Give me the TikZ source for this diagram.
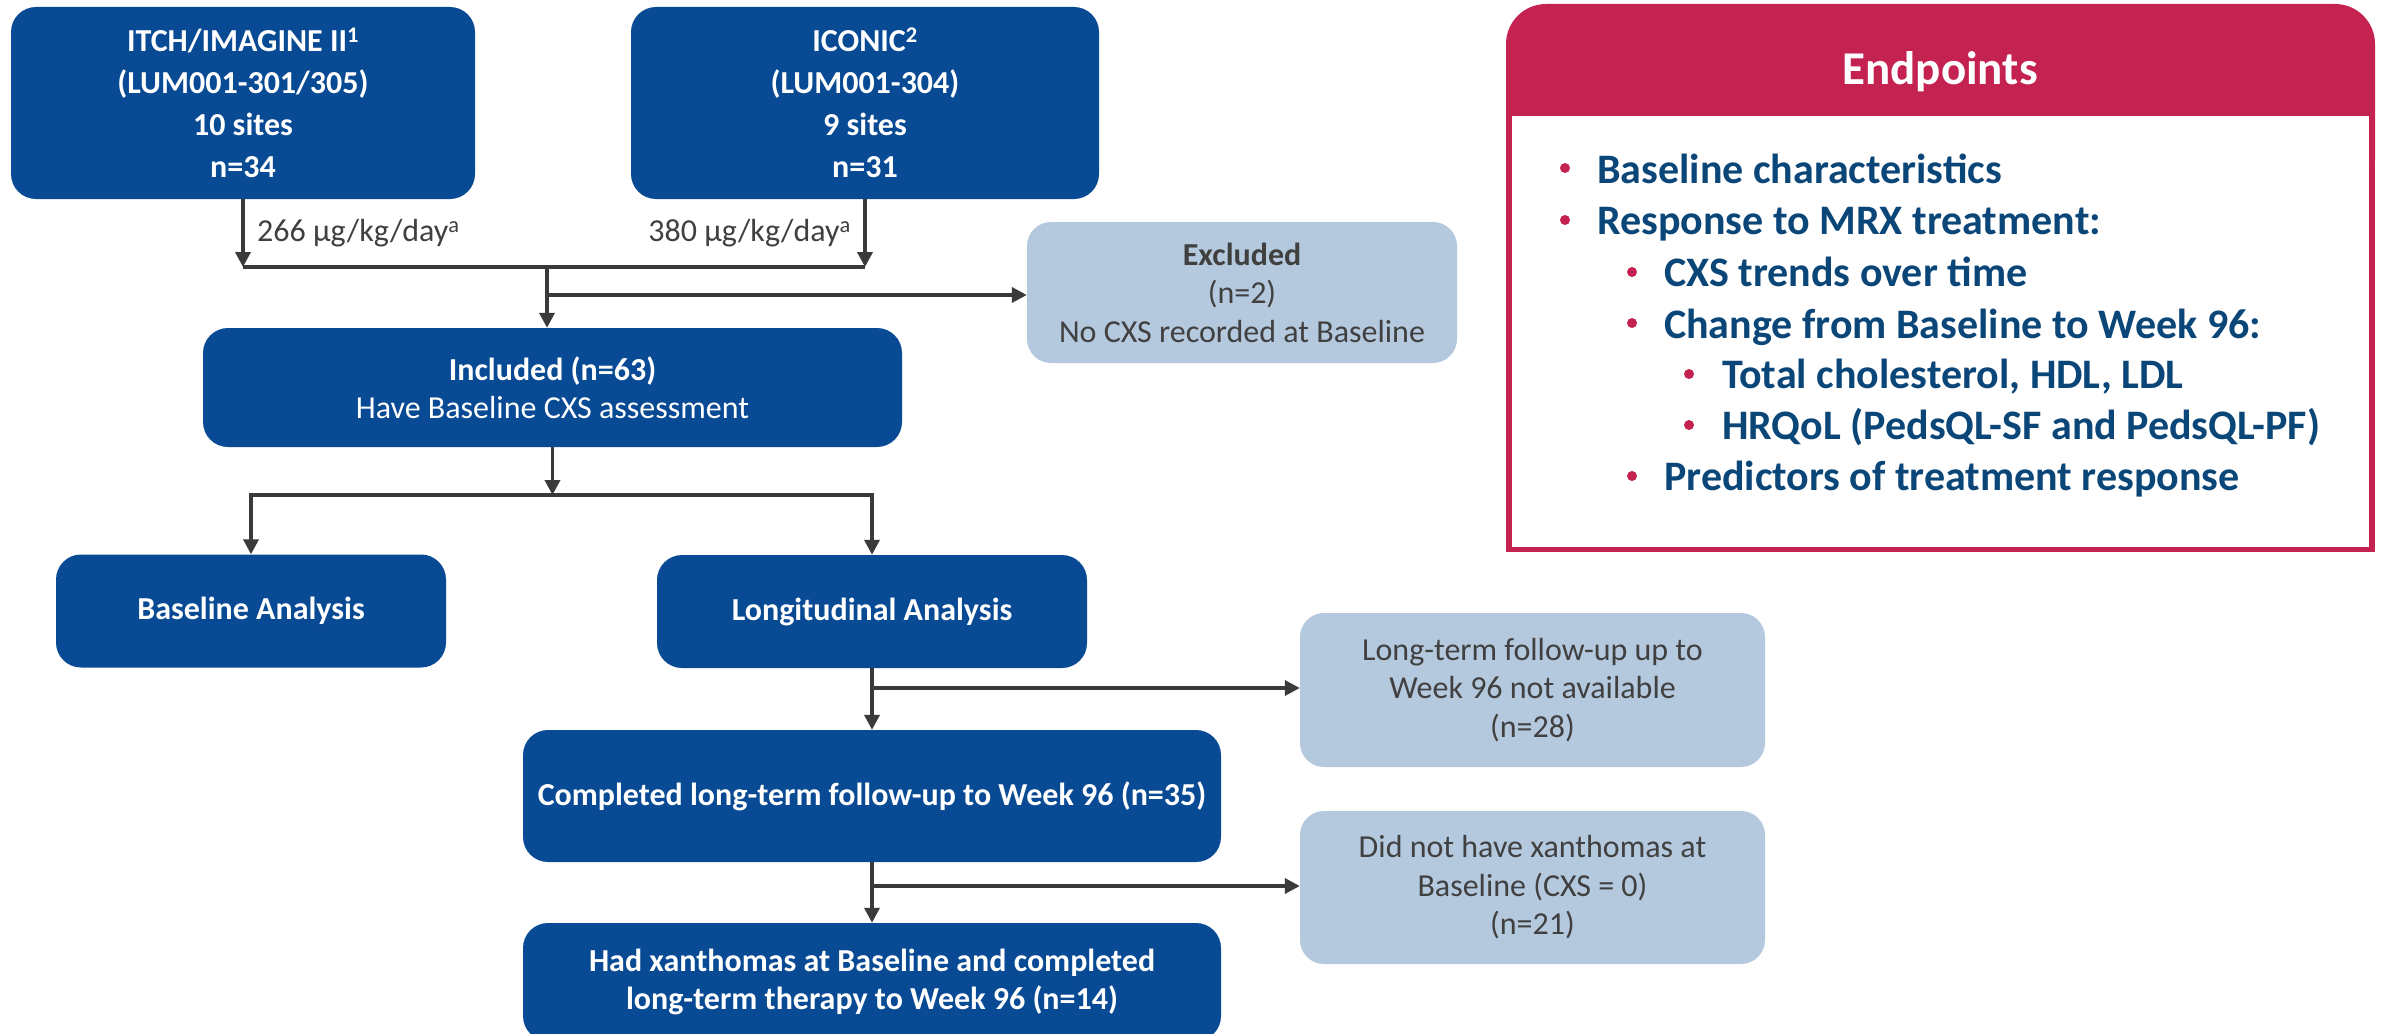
\documentclass[tikz,border=0pt]{standalone}
\usepackage{fontspec}
\setmainfont{Carlito}
\usetikzlibrary{arrows.meta}
\definecolor{mainblue}{HTML}{084A94}
\definecolor{lightblue}{HTML}{B4C8DE}
\definecolor{crim}{HTML}{C42250}
\definecolor{textblue}{HTML}{0B4679}
\definecolor{gtext}{HTML}{404040}
\definecolor{conn}{HTML}{3A3A3A}
\begin{document}
\begin{tikzpicture}[x=1pt,y=-1pt,
  bluebox/.style={fill=mainblue, rounded corners=25pt, text=white, align=center, inner sep=0pt, font=\fontsize{32}{38.5}\selectfont\bfseries},
  greybox/.style={fill=lightblue, rounded corners=24pt, text=gtext, align=center, inner sep=0pt, font=\fontsize{32}{38.5}\selectfont},
  lbl/.style={text=gtext, inner sep=0pt, font=\fontsize{32}{38.5}\selectfont},
  conline/.style={draw=conn, line width=3.5pt},
  arr/.style={conline, -{Triangle[length=15pt,width=15pt]}},
  ept/.style={text=textblue, inner sep=0pt, anchor=base west, font=\fontsize{42}{50}\selectfont\bfseries},
  bul/.style={fill=crim}
]
\useasboundingbox (0,0) rectangle (2384,1033);
\fill[white] (0,0) rectangle (2384,1033);
\clip (0,0) rectangle (2384,1033);

% main flow boxes
\node[bluebox, minimum width=464pt, minimum height=192pt, font=\fontsize{32}{42}\selectfont\bfseries] (itch) at (243,103)
  {ITCH/IMAGINE II\textsuperscript{1}\\(LUM001-301/305)\\10 sites\\n=34};
\node[bluebox, minimum width=468pt, minimum height=192pt, font=\fontsize{32}{42}\selectfont\bfseries] (iconic) at (865,103)
  {ICONIC\textsuperscript{2}\\(LUM001-304)\\9 sites\\n=31};
\node[lbl, anchor=west] (dose1) at (257,233) {266 µg/kg/day\textsuperscript{a}};
\node[lbl, anchor=east] (dose2) at (851,233) {380 µg/kg/day\textsuperscript{a}};

\node[greybox, minimum width=430pt, minimum height=141pt] (excl) at (1242,292.5)
  {\textbf{Excluded}\\(n=2)\\No CXS recorded at Baseline};
\node[bluebox, minimum width=699pt, minimum height=119pt] (incl) at (552.5,387.5)
  {Included (n=63)\\\mdseries Have Baseline CXS assessment};
\node[bluebox, minimum width=390pt, minimum height=113pt] (base) at (251,611)
  {Baseline Analysis};
\node[bluebox, minimum width=430pt, minimum height=113pt] (long) at (872,611.5)
  {Longitudinal Analysis};
\node[greybox, minimum width=465pt, minimum height=154pt] (lt) at (1532.5,690)
  {Long-term follow-up up to\\Week 96 not available\\(n=28)};
\node[bluebox, minimum width=698pt, minimum height=132pt] (comp) at (872,796)
  {Completed long-term follow-up to Week 96 (n=35)};
\node[greybox, minimum width=465pt, minimum height=153pt] (dnh) at (1532.5,887.5)
  {Did not have xanthomas at\\Baseline (CXS = 0)\\(n=21)};
\node[bluebox, minimum width=698pt, minimum height=118pt] (had) at (872,982)
  {Had xanthomas at Baseline and completed\\long-term therapy to Week 96 (n=14)};

% connectors
\coordinate (j1) at (547,267);
\coordinate (j2) at (547,295);
\coordinate (j3) at (552.5,495);
\coordinate (j4) at (872,688);
\coordinate (j5) at (872,886);
\draw[arr] (itch.south) -- (itch.south |- j1);
\draw[arr] (iconic.south) -- (iconic.south |- j1);
\draw[conline] (itch.south |- j1) -- (iconic.south |- j1);
\draw[arr] (j1) -- (j1 |- incl.north);
\draw[arr] (j2) -- (j2 -| excl.west);
\draw[arr] (incl.south) -- (j3);
\draw[arr] (j3) -| (base.north);
\draw[arr] (j3) -| (long.north);
\draw[arr] (long.south) -- (comp.north);
\draw[arr] (j4) -- (j4 -| lt.west);
\draw[arr] (comp.south) -- (had.north);
\draw[arr] (j5) -- (j5 -| dnh.west);

% endpoints panel
\fill[crim, rounded corners=40pt] (1506,4) rectangle (2375,200);
\fill[crim] (1506,80) rectangle (2375,552);
\fill[white] (1512,116) rectangle (2369,547);
\node[text=white, font=\fontsize{47}{56}\selectfont\bfseries, inner sep=0pt] (ephead) at (1940,72) {Endpoints};

\fill[bul] (1565,168) circle (5pt);
\node[ept] (e1) at (1597,183) {Baseline characteristics};
\fill[bul] (1565,220) circle (5pt);
\node[ept] (e2) at (1597,234) {Response to MRX treatment:};
\fill[bul] (1632,272) circle (5pt);
\node[ept] (e3) at (1664,286) {CXS trends over time};
\fill[bul] (1632,323) circle (5pt);
\node[ept] (e4) at (1664,338) {Change from Baseline to Week 96:};
\fill[bul] (1689,374) circle (5pt);
\node[ept] (e5) at (1722,388) {Total cholesterol, HDL, LDL};
\fill[bul] (1689,425) circle (5pt);
\node[ept] (e6) at (1722,439) {HRQoL (PedsQL-SF and PedsQL-PF)};
\fill[bul] (1632,476) circle (5pt);
\node[ept] (e7) at (1664,490) {Predictors of treatment response};
\end{tikzpicture}
\end{document}
